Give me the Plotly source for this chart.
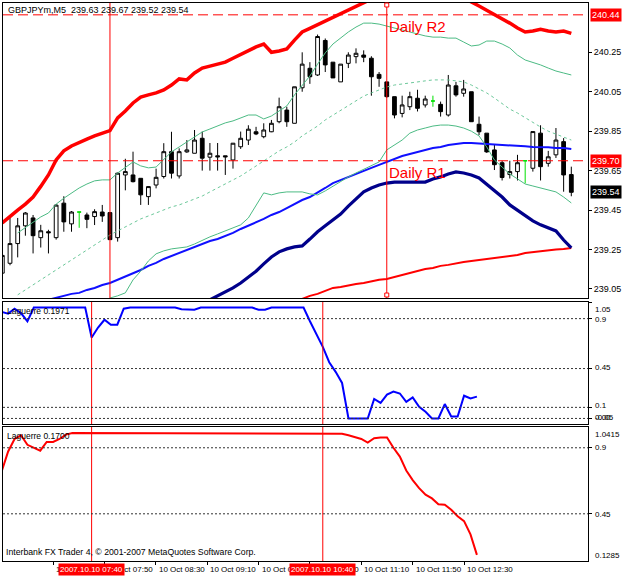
import plotly.graph_objects as go

W, H = 625, 577

# ---------------- data (bar index 0 = 10 Oct 2007 06:30, M5) ----------------
open_ = [239.13, 239.18, 239.28, 239.37, 239.41, 239.31, 239.34, 239.31, 239.485, 239.38,
         239.44, 239.425, 239.417, 239.44, 239.437, 239.31, 239.628, 239.628, 239.611, 239.518,
         239.577, 239.62, 239.746, 239.623, 239.745, 239.738, 239.814, 239.718, 239.725, 239.725,
         239.704, 239.771, 239.805, 239.847, 239.822, 239.847, 239.898, 239.957, 239.89, 240.07,
         240.169, 240.135, 240.31, 240.20, 240.10, 240.194, 240.228, 240.236, 240.22, 240.138,
         240.10, 240.025, 239.94, 239.974, 240.017, 239.983, 240.003, 239.986, 239.932, 240.08,
         240.042, 240.05, 239.885, 239.84, 239.755, 239.69, 239.63, 239.645, 239.70, 239.662,
         239.84, 239.687, 239.73, 239.797, 239.63]
high = [239.27, 239.41, 239.41, 239.44, 239.425, 239.375, 239.35, 239.48, 239.52, 239.445,
        239.44, 239.437, 239.454, 239.476, 239.44, 239.64, 239.71, 239.746, 239.61, 239.57,
        239.66, 239.789, 239.847, 239.763, 239.805, 239.856, 239.848, 239.79, 239.79, 239.725,
        239.79, 239.848, 239.88, 239.872, 239.89, 239.907, 240.02, 239.974, 240.075, 240.25,
        240.20, 240.34, 240.32, 240.20, 240.19, 240.25, 240.27, 240.26, 240.23, 240.15,
        240.10, 240.025, 240.03, 240.05, 240.06, 240.03, 240.03, 240.0, 240.135, 240.10,
        240.11, 240.05, 239.924, 239.84, 239.78, 239.70, 239.70, 239.73, 239.70, 239.848,
        239.88, 239.75, 239.866, 239.815, 239.67]
low = [239.10, 239.17, 239.21, 239.32, 239.23, 239.26, 239.23, 239.30, 239.34, 239.34,
       239.36, 239.358, 239.374, 239.39, 239.30, 239.29, 239.55, 239.59, 239.476, 239.476,
       239.56, 239.61, 239.61, 239.61, 239.74, 239.738, 239.65, 239.65, 239.65, 239.628,
       239.66, 239.76, 239.78, 239.83, 239.814, 239.845, 239.89, 239.872, 239.89, 240.05,
       240.09, 240.13, 240.15, 240.12, 240.10, 240.17, 240.194, 240.20, 240.03, 240.075,
       240.02, 239.915, 239.92, 239.957, 239.95, 239.97, 239.974, 239.924, 239.924, 240.025,
       240.025, 239.898, 239.83, 239.74, 239.653, 239.60, 239.61, 239.60, 239.585, 239.645,
       239.60, 239.67, 239.714, 239.543, 239.52]
close = [239.22, 239.28, 239.37, 239.435, 239.32, 239.345, 239.335, 239.475, 239.39, 239.44,
         239.44, 239.403, 239.442, 239.42, 239.30, 239.637, 239.645, 239.594, 239.527, 239.569,
         239.616, 239.746, 239.637, 239.746, 239.755, 239.805, 239.713, 239.738, 239.72, 239.72,
         239.789, 239.814, 239.86, 239.836, 239.856, 239.89, 239.974, 239.898, 240.075, 240.19,
         240.126, 240.33, 240.186, 240.12, 240.19, 240.236, 240.245, 240.225, 240.126, 240.118,
         240.025, 239.932, 239.983, 240.025, 239.966, 240.013, 240.003, 239.949, 240.084, 240.034,
         240.064, 239.898, 239.847, 239.745, 239.68, 239.615, 239.645, 239.69, 239.70, 239.848,
         239.67, 239.72, 239.805, 239.628, 239.54]
doji_bars = [10, 56, 68]

upper_red = [239.385, 239.42, 239.45, 239.48, 239.516, 239.57, 239.628, 239.704, 239.75, 239.775,
             239.795, 239.81, 239.826, 239.84, 239.853, 239.917, 239.952, 239.993, 240.023, 240.034,
             240.044, 240.059, 240.084, 240.115, 240.11, 240.145, 240.17, 240.18, 240.19, 240.20,
             240.22, 240.24, 240.257, 240.277, 240.292, 240.25, 240.257, 240.267, 240.312, 240.353,
             240.371, 240.389, 240.407, 240.425, 240.444, 240.461, 240.48, 240.498, 240.52, 240.54,
             240.56, 240.57, 240.58, 240.59, 240.60, 240.60, 240.59, 240.58, 240.57, 240.55,
             240.53, 240.505, 240.485, 240.464, 240.444, 240.42, 240.398, 240.373, 240.353, 240.358,
             240.367, 240.358, 240.353, 240.358, 240.346]
bb_upper = [None, None, 239.334, 239.36, 239.39, 239.415, 239.435, 239.48, 239.51, 239.537,
            239.562, 239.582, 239.598, 239.603, 239.603, 239.638, 239.664, 239.694, 239.674, 239.664,
            239.668, 239.704, 239.745, 239.77, 239.795, 239.82, 239.846, 239.861, 239.876, 239.892,
            239.902, 239.917, 239.932, 239.932, 239.912, 239.927, 239.952, 239.978, 240.034, 240.08,
            240.13, 240.19, 240.247, 240.292, 240.322, 240.353, 240.378, 240.398, 240.398, 240.393,
            240.383, 240.373, 240.363, 240.353, 240.343, 240.333, 240.327, 240.327, 240.322, 240.322,
            240.302, 240.282, 240.287, 240.307, 240.307, 240.292, 240.272, 240.236, 240.211, 240.20,
            240.186, 240.17, 240.155, 240.145, 240.135]
bb_mid = [None, None, 239.02, 239.045, 239.07, 239.096, 239.12, 239.146, 239.172, 239.198,
          239.222, 239.248, 239.273, 239.298, 239.324, 239.344, 239.364, 239.385, 239.405, 239.42,
          239.435, 239.45, 239.466, 239.476, 239.49, 239.506, 239.521, 239.542, 239.562, 239.582,
          239.603, 239.623, 239.648, 239.674, 239.699, 239.724, 239.75, 239.77, 239.795, 239.826,
          239.85, 239.876, 239.907, 239.932, 239.957, 239.978, 240.003, 240.028, 240.044, 240.059,
          240.074, 240.084, 240.09, 240.094, 240.10, 240.105, 240.11, 240.11, 240.11, 240.105,
          240.10, 240.084, 240.064, 240.044, 240.018, 239.988, 239.962, 239.942, 239.917, 239.892,
          239.871, 239.85, 239.836, 239.82, 239.805]
bb_lower = [None] * 14 + [
            239.004, 239.015, 239.03, 239.096, 239.14, 239.192,
            239.228, 239.243, 239.253, 239.258, 239.263, 239.278, 239.298, 239.314, 239.329, 239.344,
            239.36, 239.375, 239.41, 239.476, 239.537, 239.527, 239.537, 239.542, 239.542, 239.542,
            239.532, 239.527, 239.547, 239.572, 239.597, 239.618, 239.638, 239.658, 239.674, 239.694,
            239.755, 239.78, 239.805, 239.84, 239.856, 239.866, 239.876, 239.881, 239.881, 239.876,
            239.866, 239.85, 239.826, 239.77, 239.704, 239.668, 239.633, 239.608, 239.582, 239.572,
            239.562, 239.552, 239.542, 239.516, 239.486]
ma_blue = [None] * 6 + [
           238.995, 239.005, 239.015, 239.025,
           239.03, 239.045, 239.055, 239.07, 239.08, 239.096, 239.116, 239.131, 239.146, 239.167,
           239.182, 239.202, 239.217, 239.232, 239.248, 239.263, 239.278, 239.293, 239.303, 239.318,
           239.334, 239.354, 239.37, 239.39, 239.405, 239.425, 239.44, 239.46, 239.48, 239.501,
           239.516, 239.537, 239.562, 239.587, 239.603, 239.618, 239.633, 239.648, 239.664, 239.679,
           239.694, 239.709, 239.724, 239.734, 239.745, 239.755, 239.765, 239.77, 239.78, 239.785,
           239.79, 239.79, 239.788, 239.785, 239.783, 239.78, 239.778, 239.775, 239.773, 239.77,
           239.77, 239.768, 239.765, 239.765, 239.76]
navy = [None] * 27 + [
        238.995, 239.015, 239.035,
        239.055, 239.08, 239.11, 239.14, 239.177, 239.212, 239.238, 239.253, 239.263, 239.268,
        239.303, 239.34, 239.37, 239.40, 239.43, 239.47, 239.506, 239.542, 239.562, 239.577,
        239.587, 239.592, 239.592, 239.592, 239.592, 239.592, 239.608, 239.618, 239.633, 239.643,
        239.638, 239.628, 239.613, 239.582, 239.547, 239.516, 239.476, 239.45, 239.425, 239.395,
        239.375, 239.36, 239.344, 239.298, 239.258]
red_lower = [None] * 38 + [
             238.98, 239.0,
             239.015, 239.025, 239.04, 239.055, 239.06, 239.068, 239.075, 239.08, 239.088, 239.096,
             239.10, 239.11, 239.121, 239.131, 239.141, 239.151, 239.156, 239.167, 239.172, 239.18,
             239.187, 239.192, 239.197, 239.202, 239.207, 239.212, 239.217, 239.222, 239.232, 239.237,
             239.242, 239.248, 239.25, 239.252, 239.258]

lag1 = [0.96, 0.945, 0.99, 0.95, 0.875, 1.0, 1.0, 1.0, 1.0, 1.0,
        1.0, 1.0, 1.0, 1.0, 0.73, 0.82, 0.89, 0.845, 0.845, 0.99,
        1.0, 1.0, 1.0, 1.0, 1.0, 1.0, 1.0, 1.0, 0.985, 0.98,
        0.98, 1.0, 1.0, 1.0, 1.0, 1.0, 1.0, 1.0, 1.0, 1.0,
        0.98, 0.98, 1.0, 1.0, 1.0, 1.0, 1.0, 1.0, 0.877, 0.76,
        0.645, 0.507, 0.42, 0.32, 0.0, 0.0, 0.0, 0.0, 0.176, 0.14,
        0.215, 0.243, 0.225, 0.15, 0.19, 0.105, 0.06, 0.0, 0.0, 0.13,
        0.017, 0.017, 0.205, 0.18, 0.197]
lag2 = [0.74, 0.875, 0.96, 0.985, 0.92, 0.90, 0.88, 0.94, 0.94, 0.96,
        0.99, 1.0, 1.0, 1.0, 1.0, 1.0, 1.0, 1.0, 1.0, 1.0,
        1.0, 1.0, 1.0, 1.0, 1.0, 1.0, 1.0, 1.0, 1.0, 1.0,
        1.0, 1.0, 1.0, 1.0, 1.0, 1.0, 1.0, 1.0, 1.0, 1.0,
        1.0, 1.0, 1.0, 1.0, 1.0, 1.0, 1.0, 1.0, 1.0, 1.0,
        1.0, 1.0, 1.0, 0.995, 0.985, 0.975, 0.96, 0.935, 0.965, 0.97,
        0.97, 0.90, 0.84, 0.745, 0.68, 0.625, 0.58, 0.555, 0.515, 0.512,
        0.478, 0.433, 0.40, 0.31, 0.17]

price_ticks = [240.25, 240.05, 239.85, 239.65, 239.45, 239.25, 239.05]
time_tick_bars = [0, 8, 16, 24, 32, 40, 48, 56, 64, 72]
time_tick_text = ["10 Oct 2007", "10 Oct 07:10", "10 Oct 07:50", "10 Oct 08:30", "10 Oct 09:10",
                  "10 Oct 09:50", "10 Oct 10:30", "10 Oct 11:10", "10 Oct 11:50", "10 Oct 12:30"]
vline_bars = [14, 50]
vline_text = ["2007.10.10 07:40", "2007.10.10 10:40"]
r2_level, r1_level, bid = 240.44, 239.70, 239.54
lag_levels = [0.9, 0.45, 0.1, 0.0]

# ---------------- figure ----------------
FONT = "Liberation Sans"
bars = list(range(len(close)))
normal = [i for i in bars if i not in doji_bars]


def px(x):
    return x / W


def py(y):
    return 1 - y / H


def pick(arr, idx):
    return [arr[i] for i in idx]


fig = go.Figure()

fig.add_trace(go.Candlestick(
    x=normal, open=pick(open_, normal), high=pick(high, normal), low=pick(low, normal),
    close=pick(close, normal),
    increasing=dict(line=dict(color="black", width=1), fillcolor="white"),
    decreasing=dict(line=dict(color="black", width=1), fillcolor="black"),
    xaxis="x", yaxis="y", showlegend=False, hoverinfo="skip"))
fig.add_trace(go.Candlestick(
    x=doji_bars, open=pick(open_, doji_bars), high=pick(high, doji_bars),
    low=pick(low, doji_bars), close=pick(close, doji_bars),
    increasing=dict(line=dict(color="#00e000", width=1), fillcolor="#00e000"),
    decreasing=dict(line=dict(color="#00e000", width=1), fillcolor="#00e000"),
    xaxis="x", yaxis="y", showlegend=False, hoverinfo="skip"))


def line(y, color, width, dash="solid", xa="x", ya="y"):
    fig.add_trace(go.Scatter(x=bars, y=y, mode="lines",
                             line=dict(color=color, width=width, dash=dash),
                             xaxis=xa, yaxis=ya, showlegend=False, hoverinfo="skip",
                             connectgaps=False))


line(red_lower, "#ff0000", 2)
line(navy, "#00008b", 3.2)
line(ma_blue, "#1010ff", 2)
line(bb_upper, "#4cbb84", 1)
line(bb_lower, "#4cbb84", 1)
line(bb_mid, "#6cc89a", 1, "3px,3px")
line(upper_red, "#ff0000", 3.5)

line(lag1, "#0000ff", 2, xa="x2", ya="y2")
line(lag2, "#ff0000", 2, xa="x3", ya="y3")

shapes = []
for lv in (r2_level, r1_level):
    shapes.append(dict(type="line", xref="x domain", yref="y", x0=0, x1=1, y0=lv, y1=lv,
                       line=dict(color="#ff0000", width=1, dash="10px,5px")))
for b in vline_bars:
    shapes.append(dict(type="line", xref="x", yref="y domain", x0=b, x1=b, y0=0, y1=1,
                       line=dict(color="#ff0000", width=1)))
    for xa, ya in (("x2", "y2"), ("x3", "y3")):
        shapes.append(dict(type="line", xref=xa, yref=ya + " domain", x0=b, x1=b, y0=0, y1=1,
                           line=dict(color="#ff0000", width=1)))
# selection markers on the second main-pane line
for yy in (5, 295):
    shapes.append(dict(type="rect", xref="x", yref="paper", xsizemode="pixel",
                       xanchor=vline_bars[1], x0=-2, x1=2, y0=py(yy + 2), y1=py(yy - 2),
                       line=dict(color="#ff0000", width=1), fillcolor="white"))
for lv in lag_levels:
    shapes.append(dict(type="line", xref="x2 domain", yref="y2", x0=0, x1=1, y0=lv, y1=lv,
                       line=dict(color="#333333", width=1, dash="2px,2px")))
for lv in lag_levels[:2]:
    shapes.append(dict(type="line", xref="x3 domain", yref="y3", x0=0, x1=1, y0=lv, y1=lv,
                       line=dict(color="#333333", width=1, dash="2px,2px")))

ann = []
ann.append(dict(text="GBPJPYm,M5  239.63 239.67 239.52 239.54", xref="paper", yref="paper",
                x=px(6), y=py(10), xanchor="left", yanchor="middle", showarrow=False,
                font=dict(family=FONT, size=9, color="black")))
for txt, lv in (("Daily R2", r2_level), ("Daily R1", r1_level)):
    ann.append(dict(text=txt, xref="x", yref="y", x=vline_bars[1], y=lv, xanchor="left",
                    yanchor="top", yshift=-1, showarrow=False,
                    font=dict(family=FONT, size=15, color="#ff0000")))
for lv, bg in ((r2_level, "#ff0000"), (r1_level, "#ff0000"), (bid, "black")):
    ann.append(dict(text=f"{lv:.2f}", xref="paper", yref="y", x=px(590), y=lv, xanchor="left",
                    yanchor="middle", showarrow=False, bgcolor=bg, borderpad=1,
                    font=dict(family=FONT, size=9, color="white")))
ann.append(dict(text="Laguerre 0.1971", xref="paper", yref="paper", x=px(5), y=py(311),
                xanchor="left", yanchor="middle", showarrow=False,
                font=dict(family=FONT, size=8.5, color="black")))
ann.append(dict(text="Laguerre 0.1700", xref="paper", yref="paper", x=px(5), y=py(436),
                xanchor="left", yanchor="middle", showarrow=False,
                font=dict(family=FONT, size=8.5, color="black")))
ann.append(dict(text="Interbank FX Trader 4, © 2001-2007 MetaQuotes Software Corp.",
                xref="paper", yref="paper", x=px(4), y=py(552), xanchor="left", yanchor="middle",
                showarrow=False, font=dict(family=FONT, size=8.7, color="black")))
for txt, yy in (("1.05", 309), ("0.9", 319), ("0.45", 368), ("0.1", 406), ("0.00", 417), ("-0.05", 417)):
    ann.append(dict(text=txt, xref="paper", yref="paper", x=px(593), y=py(yy), xanchor="left",
                    yanchor="middle", showarrow=False, font=dict(family=FONT, size=8, color="black")))
for txt, yy in (("1.0415", 434), ("0.9", 447), ("0.45", 514), ("0.1285", 555)):
    ann.append(dict(text=txt, xref="paper", yref="paper", x=px(593), y=py(yy), xanchor="left",
                    yanchor="middle", showarrow=False, font=dict(family=FONT, size=8, color="black")))
for b, txt in zip(time_tick_bars, time_tick_text):
    ann.append(dict(text=txt, xref="x3", yref="paper", x=b, y=py(569), xanchor="left",
                    yanchor="middle", xshift=1, showarrow=False,
                    font=dict(family=FONT, size=8, color="black")))
for b, txt in zip(vline_bars, vline_text):
    ann.append(dict(text=txt, xref="x3", yref="paper", x=b, y=py(569), xanchor="center",
                    yanchor="middle", showarrow=False, bgcolor="#ff0000", borderpad=1,
                    font=dict(family=FONT, size=8, color="white")))

axis_common = dict(showgrid=False, zeroline=False, showline=True, mirror=True,
                   linecolor="black", linewidth=1)

fig.update_layout(
    width=W, height=H, margin=dict(l=0, r=0, t=0, b=0),
    paper_bgcolor="white", plot_bgcolor="white", showlegend=False,
    xaxis=dict(domain=[px(3), px(588)], range=[0.09, 76.17], showticklabels=False, ticks="",
               rangeslider=dict(visible=False), anchor="y", **axis_common),
    yaxis=dict(domain=[py(298), py(3)], range=[239.004, 240.50], side="right",
               tickvals=price_ticks, ticktext=[f"{v:.2f}" for v in price_ticks],
               ticks="outside", ticklen=3, tickcolor="black",
               tickfont=dict(family=FONT, size=9, color="black"), anchor="x", **axis_common),
    xaxis2=dict(domain=[px(3), px(588)], range=[0.2, 91.3], showticklabels=False, ticks="",
                anchor="y2", **axis_common),
    yaxis2=dict(domain=[py(424), py(302)], range=[-0.05, 1.05], side="right",
                tickvals=[1.05, 0.9, 0.45, 0.1, 0.0], ticks="outside", ticklen=3,
                showticklabels=False, tickcolor="black", anchor="x2", **axis_common),
    xaxis3=dict(domain=[px(3), px(588)], range=[0.2, 91.3], matches="x2",
                tickvals=time_tick_bars, ticks="outside", ticklen=3, tickcolor="black",
                showticklabels=False, anchor="y3", **axis_common),
    yaxis3=dict(domain=[py(561), py(427)], range=[0.1285, 1.0415], side="right",
                tickvals=[0.9, 0.45], ticks="outside", ticklen=3,
                showticklabels=False, tickcolor="black", anchor="x3", **axis_common),
    shapes=shapes, annotations=ann,
)

fig.write_html("out.html")
